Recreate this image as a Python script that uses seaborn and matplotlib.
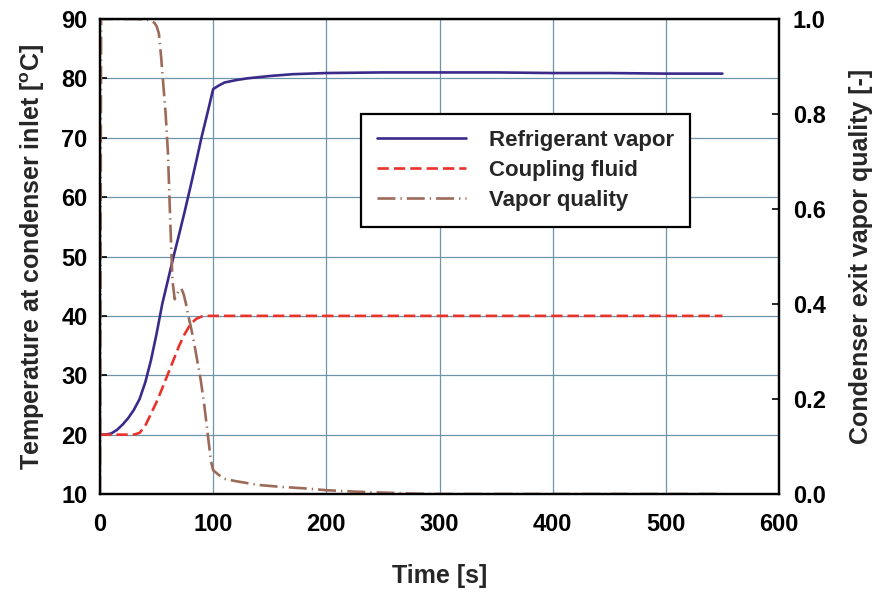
import matplotlib
matplotlib.use("Agg")
import matplotlib.pyplot as plt
import seaborn as sns
import pandas as pd

# ---- data ----
t_ref = [0, 5, 10, 15, 20, 25, 30, 35, 40, 45, 50, 55, 60, 65, 70, 75, 80, 85, 90, 95,
         100, 105, 110, 120, 130, 140, 150, 170, 200, 250, 300, 350, 400, 450, 500, 550]
T_ref = [20, 20, 20.2, 20.8, 21.7, 22.8, 24.2, 26, 28.8, 32.5, 37, 42, 46, 50, 53.8, 57.7, 61.8, 66, 70.3, 74.2,
         78.2, 78.8, 79.3, 79.7, 80.0, 80.2, 80.4, 80.7, 80.9, 81.0, 81.0, 81.0, 80.9, 80.9, 80.8, 80.8]

t_cf = [0, 10, 20, 30, 35, 40, 45, 50, 55, 60, 65, 70, 75, 80, 85, 90, 95, 100, 150, 200, 300, 400, 500, 550]
T_cf = [20, 20, 20, 20, 20.3, 21.5, 23.5, 25.5, 27.8, 30.2, 32.6, 35, 37, 38.6, 39.5, 39.9, 40, 40, 40, 40, 40, 40, 40, 40]

t_q = [0, 1, 5, 10, 20, 30, 40, 45, 48, 50, 52, 54, 56, 58, 60, 62, 64, 66, 68, 70, 72, 74, 76, 78, 80,
       83, 86, 89, 92, 95, 98, 100, 105, 110, 120, 140, 160, 180, 200, 225, 250, 275, 300, 350, 400, 450, 500, 550]
q = [0, 1.0, 1.0, 1.0, 1.0, 1.0, 0.999, 0.997, 0.992, 0.985, 0.97, 0.92, 0.86, 0.80, 0.72, 0.58, 0.45, 0.41,
     0.42, 0.43, 0.432, 0.42, 0.40, 0.375, 0.355, 0.32, 0.28, 0.24, 0.19, 0.13, 0.07, 0.05, 0.04, 0.032,
     0.027, 0.019, 0.015, 0.012, 0.008, 0.005, 0.003, 0.001, 0.0, 0, 0, 0, 0, 0]

x_ticks = [0, 100, 200, 300, 400, 500, 600]
y_ticks = [10, 20, 30, 40, 50, 60, 70, 80, 90]
y2_ticks = [0.0, 0.2, 0.4, 0.6, 0.8, 1.0]

labels = ["Refrigerant vapor", "Coupling fluid", "Vapor quality"]

# ---- styling ----
sns.set_theme(style="white")
plt.rcParams["font.family"] = ["Liberation Sans", "DejaVu Sans"]
plt.rcParams["mathtext.fontset"] = "custom"
plt.rcParams["mathtext.rm"] = "Liberation Sans:bold"
plt.rcParams["mathtext.it"] = "Liberation Sans:bold"

c_ref = "#3b2a8a"
c_cf = "#e8332b"
c_q = "#9c6a58"
grid_c = "#6f93a8"

fig = plt.figure(figsize=(8.78, 5.90), dpi=100)
ax = fig.add_axes([100 / 878, 1 - 494 / 590, 679 / 878, 475 / 590])
ax2 = ax.twinx()

df_ref = pd.DataFrame({"t": t_ref, "T": T_ref})
df_cf = pd.DataFrame({"t": t_cf, "T": T_cf})
df_q = pd.DataFrame({"t": t_q, "q": q})

sns.lineplot(data=df_ref, x="t", y="T", ax=ax, color=c_ref, lw=1.9, label=labels[0], legend=False)
sns.lineplot(data=df_cf, x="t", y="T", ax=ax, color=c_cf, lw=1.9, label=labels[1], legend=False,
             linestyle=(0, (4.3, 1.9)))
sns.lineplot(data=df_q, x="t", y="q", ax=ax2, color=c_q, lw=1.9, label=labels[2], legend=False,
             linestyle=(0, (6.8, 1.9, 0.5, 1.9)))

ax.set_xlim(0, 600)
ax.set_ylim(10, 90)
ax2.set_ylim(0, 1.0)
ax.set_xticks(x_ticks)
ax.set_yticks(y_ticks)
ax2.set_yticks(y2_ticks)
ax.set_yticklabels([str(v) for v in y_ticks])
ax2.set_yticklabels([f"{v:.1f}" for v in y2_ticks])

ax.grid(True, color=grid_c, lw=0.9)
ax2.grid(False)
ax.set_axisbelow(True)

for a in (ax, ax2):
    for s in a.spines.values():
        s.set_color("black")
        s.set_linewidth(1.6)
    a.tick_params(direction="in", length=5, width=1.2, colors="black", labelsize=17)
    for lab in a.get_xticklabels() + a.get_yticklabels():
        lab.set_fontweight("bold")
ax.tick_params(axis="x", pad=14)
ax.tick_params(axis="y", pad=9)
ax2.tick_params(axis="y", pad=10)

ax.set_xlabel("Time [s]", fontsize=18, fontweight="bold", labelpad=20)
ax.set_ylabel("Temperature at condenser inlet [$^{o}$C]", fontsize=18, fontweight="bold", labelpad=10)
ax2.set_ylabel("Condenser exit vapor quality [-]", fontsize=18, fontweight="bold", labelpad=17)

h1, l1 = ax.get_legend_handles_labels()
h2, l2 = ax2.get_legend_handles_labels()
leg = ax2.legend(h1 + h2, l1 + l2, loc="upper left", bbox_to_anchor=(0.385, 0.80),
                 frameon=True, fancybox=False, edgecolor="black", framealpha=1,
                 handlelength=4.0, borderpad=0.72, labelspacing=0.4, handletextpad=1.0,
                 borderaxespad=0,
                 prop={"family": "Liberation Sans", "weight": "bold", "size": 16})
leg.get_frame().set_linewidth(1.6)

fig.savefig("out.png", dpi=100)
